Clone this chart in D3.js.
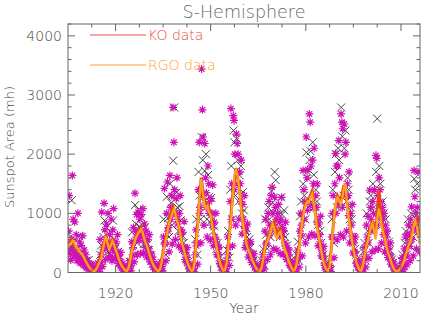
<!DOCTYPE html>
<html>
<head>
<meta charset="utf-8">
<script src="https://cdn.jsdelivr.net/npm/d3@7"></script>
<style>
  body { margin: 0; background: #fff; }
  text { font-family: "DejaVu Sans", sans-serif; font-weight: 200; }
</style>
</head>
<body>
<div id="chart"></div>
<script>
// years of the monthly scatter start here; 4 magenta (RGO) and 3 black (KO) samples per year
const firstYear = 1905;

const rgoPoints = [
  700,1300,380,210, 560,1640,900,260, 855,320,640,200, 1000,250,520,160, 460,180,620,120,
  380,120,300,90, 200,60,150,40, 90,20,130,10, 10,50,30,5, 40,160,90,20,
  560,180,1020,100, 380,1170,720,220, 820,420,1000,260, 640,280,900,200, 720,1080,380,230,
  520,260,640,150, 280,150,340,80, 140,60,110,30, 20,60,10,5, 60,200,150,30,
  520,300,760,180, 1340,700,980,300, 1020,540,900,320, 980,620,1080,330, 820,420,700,260,
  560,300,640,180, 320,180,260,90, 140,80,120,40, 30,60,10,5, 60,180,140,30,
  600,1420,500,200, 1000,1530,760,350, 1640,1100,1300,480, 2790,2200,1400,560, 1250,1600,900,450,
  1000,1300,720,380, 680,400,860,220, 340,180,420,110, 150,60,110,30, 30,10,70,5,
  300,720,500,140, 1400,2200,1100,500, 3440,2750,2290,800, 2180,1600,1350,600, 1800,1500,1200,550,
  1250,1000,1480,450, 850,600,1000,300, 480,300,420,150, 160,90,140,40, 30,60,20,5,
  200,600,420,120, 1200,2770,1500,450, 2650,2570,2000,800, 2340,2180,2000,900, 1700,1500,1900,650,
  1150,900,1300,420, 700,500,820,260, 480,300,520,170, 260,180,320,100, 120,60,100,30,
  20,40,10,5, 120,300,220,60, 700,900,500,220, 1000,1200,800,300, 1300,1440,1000,400,
  1270,1100,900,380, 1000,1150,850,320, 900,1270,760,300, 700,500,850,220, 420,300,380,120,
  180,100,160,50, 40,20,70,10, 200,380,300,90, 700,1000,800,280, 1725,1400,1200,500,
  2290,1600,1740,600, 2680,2540,1800,650, 1900,1500,2100,620, 1300,1100,1500,450, 820,640,950,280,
  380,260,440,120, 120,60,100,30, 40,80,120,15, 600,1000,1300,250, 1500,2010,1800,550,
  1800,2230,1600,640, 2680,2540,2430,600, 2510,2000,2200,700, 1500,1300,1700,500, 1000,800,1150,330,
  500,350,600,160, 180,100,200,50, 40,20,60,10, 200,420,300,90, 800,600,950,240,
  1390,1100,900,350, 1200,1000,1400,380, 1980,1930,1300,400, 1600,1400,1200,500, 1100,900,1000,350,
  800,600,700,250, 400,300,500,140, 200,120,180,60, 40,20,10,5, 20,60,40,10,
  120,250,180,50, 400,600,300,130, 650,800,500,200, 900,1110,700,280, 1725,1280,1000,400,
  1100,1700,900,350
];

// extra low-lying magenta samples (one per year, mid-year), filling the band under the curves
const rgoLow = [
  330,420,300,260,220, 160,90,30,15,70, 300,480,520,400,450, 330,190,80,20,100,
  420,600,640,620,520, 400,220,90,20,100, 480,700,900,1000,820, 640,430,250,80,20,
  450,1000,1300,1100,1000, 800,560,300,100,25, 300,900,1400,1500,1200, 780,480,330,180,70,
  20,150,480,620,800, 700,640,600,450,280, 110,25,230,620,900, 1050,1150,1100,850,520,
  280,90,30,600,1000, 1150,1100,1300,960,620, 330,120,30,230,500, 700,760,800,950,640,
  460,280,130,25,30, 120,280,440,560,760, 680
];

const koPoints = [
  650,420,300, 1220,480,350, 560,300,420, 420,610,250, 350,250,180,
  280,140,200, 90,210,120, 40,70,20, 20,5,40, 120,60,30,
  300,460,200, 600,880,400, 760,350,500, 520,380,300, 880,560,400,
  440,300,350, 240,160,120, 90,50,70, 30,15,40, 90,180,50,
  680,460,300, 1140,820,500, 1060,780,560, 920,700,480, 760,480,380,
  480,380,280, 290,200,150, 110,60,80, 40,20,10, 120,90,60,
  900,560,300, 1280,920,600, 1500,1180,800, 1890,2790,1000, 1350,1100,700,
  1120,880,600, 620,500,380, 360,220,180, 120,80,50, 40,60,20,
  560,900,300, 1700,1300,900, 2290,1900,1200, 1720,2000,900, 1650,1280,850,
  1260,900,700, 780,520,400, 500,360,250, 200,100,80, 40,80,20,
  380,700,250, 1400,1800,900, 2400,2200,1300, 2260,1900,1200, 1640,1800,1000,
  1360,1050,700, 760,600,450, 560,420,300, 300,200,150, 90,140,60,
  30,60,15, 200,400,120, 900,640,400, 1100,900,600, 1380,1180,700,
  1700,1560,800, 1100,980,600, 1270,980,650, 1050,600,400, 460,340,250,
  200,140,90, 50,90,30, 300,520,200, 950,1200,600, 1500,1300,900,
  2030,1700,1100, 1900,2050,1200, 2200,1650,1100, 1400,1200,800, 900,700,500,
  420,300,220, 90,140,60, 60,160,40, 900,1400,500, 1700,2000,1100,
  2100,1900,1200, 2790,2300,1300, 2100,2400,1200, 1600,1400,900, 1100,900,600,
  560,400,300, 220,150,100, 50,80,30, 350,500,200, 1000,700,500,
  1200,1300,700, 1500,1100,800, 1700,2600,900, 1800,1500,1000, 1200,1000,700,
  900,650,450, 520,380,250, 220,160,100, 50,30,20, 30,80,20,
  200,300,120, 500,700,300, 900,600,450, 1000,800,600, 1585,1400,900,
  1500,1000,700
];

// smoothed RGO curve, every half year from 1905.0 to 2016.0
const rgoSmooth = [
  430,470,500,540,500,440,400,370,330,300,
  260,200,150,100,70,40,20,25,60,120,
  180,250,380,520,610,480,390,460,530,470,
  380,320,230,160,110,70,40,20,60,170,
  320,430,520,600,650,690,730,680,580,500,
  430,340,250,180,120,70,40,20,50,160,
  320,450,580,720,860,930,1020,1080,940,850,
  760,620,480,390,280,190,120,60,25,40,
  220,500,800,1300,1580,1350,1150,1080,1120,1020,
  960,780,640,540,380,250,150,80,30,40,
  150,400,700,950,1300,1650,1730,1620,1420,1120,
  900,700,560,430,360,300,220,160,100,60,
  30,20,70,200,380,490,540,620,720,820,
  760,600,580,670,690,560,450,370,300,200,
  140,80,30,40,120,280,470,700,900,1050,
  1150,1200,1180,1280,1330,1150,980,760,620,480,
  320,180,100,50,25,80,350,700,980,1200,
  1270,1220,1150,1250,1440,1500,1150,900,760,560,
  380,260,160,90,40,30,120,280,420,520,
  640,760,830,700,560,900,1080,950,760,650,
  560,420,320,250,160,90,40,20,25,40,
  80,130,200,300,380,470,520,620,780,870,
  780,620,480
];

// smoothed KO curve, one value per year 1905..2016
const koSmooth = [
  480,560,450,380,330, 250,150,60,20,80,
  220,450,600,430,560, 400,230,110,40,70,
  330,540,680,760,560, 440,260,120,40,60,
  350,620,900,1120,980, 780,500,300,130,30,
  250,900,1600,1200,1180, 980,660,400,160,30,
  160,720,1350,1760,1450, 930,580,380,230,110,
  30,80,420,580,780, 860,620,740,460,310,
  150,30,130,500,960, 1200,1250,1380,1000,640,
  330,110,30,380,1020, 1300,1200,1480,1180,780,
  400,170,40,140,450, 680,880,620,1400,800,
  580,330,170,40,30, 90,220,400,560,820,
  900,500
];

const yTicks = [0, 1000, 2000, 3000, 4000];
const xTicks = [1920, 1950, 1980, 2010];
const legendLabels = ["KO data", "RGO data"];

const W = 427, H = 317;
const margin = {top: 24, right: 7, bottom: 44.5, left: 68};
const width = W - margin.left - margin.right;
const height = H - margin.top - margin.bottom;

const svg = d3.select("#chart").append("svg")
    .attr("width", W)
    .attr("height", H);

const g = svg.append("g")
    .attr("transform", `translate(${margin.left},${margin.top})`);

const x = d3.scaleLinear().domain([1905, 2016]).range([0, width]);
const y = d3.scaleLinear().domain([0, 4200]).range([height, 0]);

g.append("clipPath").attr("id", "clip")
    .append("rect").attr("width", width).attr("height", height);

const plot = g.append("g").attr("clip-path", "url(#clip)");

const starPath = "M-4,0H4M0,-4V4M-2.8,-2.8L2.8,2.8M-2.8,2.8L2.8,-2.8";

// black X markers
const koData = koPoints.map((v, i) => ({
    t: firstYear + Math.floor(i / 3) + ((i % 3) + 0.5) / 3, v
}));
plot.selectAll(".ko").data(koData).enter().append("path")
    .attr("class", "ko")
    .attr("transform", d => `translate(${x(d.t)},${y(d.v)})`)
    .attr("d", "M-4,-4L4,4M-4,4L4,-4")
    .attr("stroke", "#333")
    .attr("stroke-width", 0.9)
    .attr("fill", "none");

// magenta asterisks
const rgoData = rgoPoints.map((v, i) => ({
    t: firstYear + Math.floor(i / 4) + ((i % 4) + 0.5) / 4, v
})).concat(rgoLow.map((v, i) => ({t: firstYear + i + 0.5, v})));

plot.selectAll(".rgo").data(rgoData).enter().append("path")
    .attr("class", "rgo")
    .attr("transform", d => `translate(${x(d.t)},${y(d.v)})`)
    .attr("d", starPath)
    .attr("stroke", "#d010b8")
    .attr("stroke-width", 1.2)
    .attr("fill", "none");

const line = d3.line().x(d => x(d.t)).y(d => y(d.v));

plot.append("path")
    .datum(koSmooth.map((v, i) => ({t: 1905 + i, v})))
    .attr("d", line)
    .attr("fill", "none")
    .attr("stroke", "#e8441c")
    .attr("stroke-width", 3);

plot.append("path")
    .datum(rgoSmooth.map((v, i) => ({t: 1905 + i * 0.5, v})))
    .attr("d", line)
    .attr("fill", "none")
    .attr("stroke", "#ffa020")
    .attr("stroke-width", 2.2);

// frame
g.append("rect")
    .attr("width", width).attr("height", height)
    .attr("fill", "none").attr("stroke", "#666").attr("stroke-width", 1);

const axisColor = "#666";
// y ticks, inward on both sides
d3.range(0, 4201, 200).forEach(v => {
    const len = v % 1000 === 0 ? 7 : 3.5;
    g.append("line").attr("x1", 0).attr("x2", len).attr("y1", y(v)).attr("y2", y(v)).attr("stroke", axisColor);
    g.append("line").attr("x1", width).attr("x2", width - len).attr("y1", y(v)).attr("y2", y(v)).attr("stroke", axisColor);
});
// x ticks, inward on top and bottom
d3.range(1912.5, 2016, 7.5).forEach(t => {
    const len = xTicks.includes(t) ? 7 : 3.5;
    g.append("line").attr("x1", x(t)).attr("x2", x(t)).attr("y1", height).attr("y2", height - len).attr("stroke", axisColor);
    g.append("line").attr("x1", x(t)).attr("x2", x(t)).attr("y1", 0).attr("y2", len).attr("stroke", axisColor);
});

g.selectAll(".ylab").data(yTicks).enter().append("text")
    .attr("x", -6).attr("y", d => y(d)).attr("dy", "0.36em")
    .attr("text-anchor", "end").attr("font-size", "14px").attr("fill", "#444")
    .text(d => d);

g.selectAll(".xlab").data(xTicks).enter().append("text")
    .attr("x", d => x(d)).attr("y", height + 25)
    .attr("text-anchor", "middle").attr("font-size", "14px").attr("fill", "#444")
    .text(d => d);

svg.append("text")
    .attr("x", margin.left + width / 2).attr("y", 313)
    .attr("text-anchor", "middle").attr("font-size", "14px").attr("fill", "#444")
    .text("Year");

svg.append("text")
    .attr("transform", `translate(14,147) rotate(-90)`)
    .attr("text-anchor", "middle").attr("font-size", "13px").attr("fill", "#444")
    .text("Sunspot Area (mh)");

svg.append("text")
    .attr("x", margin.left + width / 2).attr("y", 18)
    .attr("text-anchor", "middle").attr("font-size", "17.5px").attr("fill", "#666")
    .text("S-Hemisphere");

// legend
const legendColors = ["#e8503c", "#ffa030"];
const legendY = [35, 65];
legendLabels.forEach((lab, i) => {
    svg.append("line").attr("x1", 90).attr("x2", 146)
        .attr("y1", legendY[i]).attr("y2", legendY[i])
        .attr("stroke", legendColors[i]).attr("stroke-width", 1);
    svg.append("text").attr("x", 148).attr("y", legendY[i]).attr("dy", "0.35em")
        .attr("font-size", "14px").attr("fill", legendColors[i])
        .text(lab);
});
</script>
</body>
</html>
